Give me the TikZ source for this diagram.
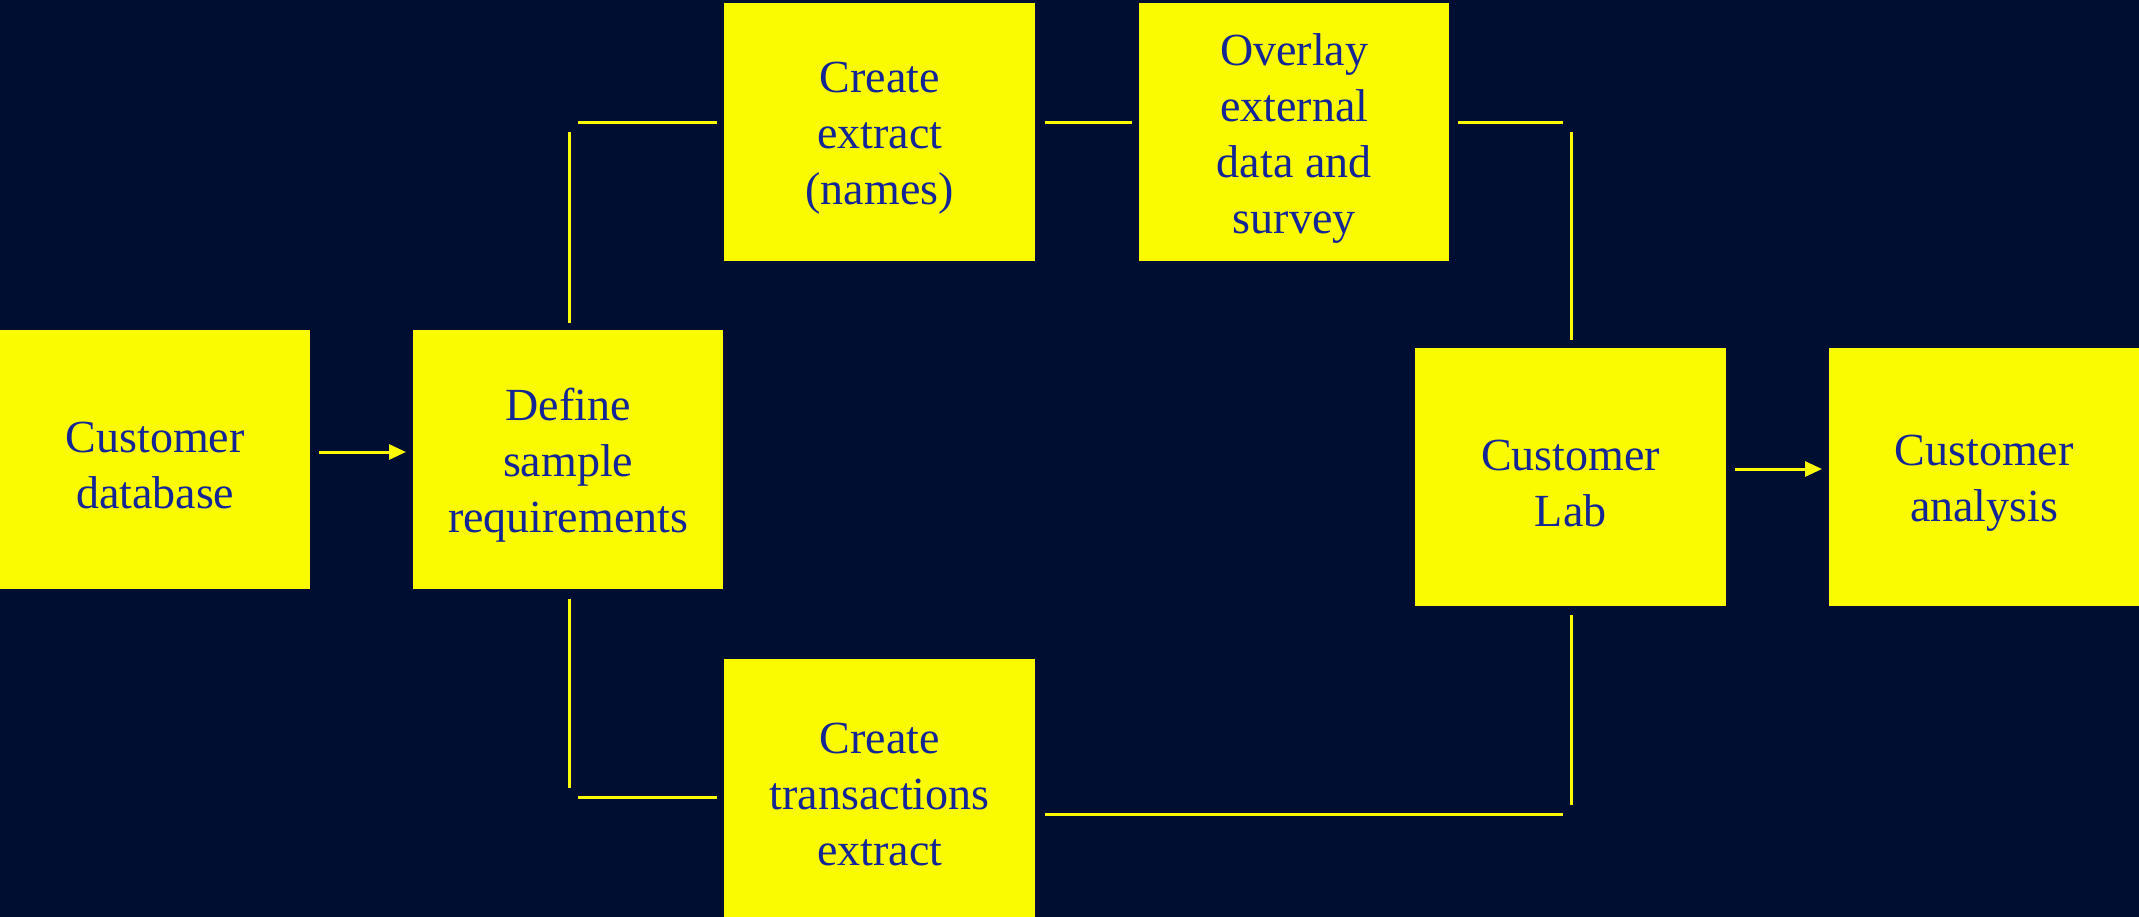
\documentclass[tikz,border=0pt]{standalone}
\usepackage{fontspec}
\setmainfont{Liberation Serif}
\usetikzlibrary{arrows.meta}
\definecolor{bgnavy}{RGB}{0,14,50}
\definecolor{boxyellow}{RGB}{250,250,0}
\definecolor{textblue}{RGB}{20,38,150}
\tikzset{
  procbox/.style={fill=boxyellow, draw=none, anchor=north west, inner sep=0pt},
  boxtext/.style={text=textblue, align=center, inner sep=0pt, font=\fontsize{46}{56}\selectfont},
  link/.style={draw=boxyellow, line width=3pt},
  arrowlink/.style={link, -{Triangle[length=17pt,width=15pt]}}
}
\begin{document}
\begin{tikzpicture}[x=1pt,y=-1pt]
\fill[bgnavy] (0,0) rectangle (2139,917);
\useasboundingbox (0,0) rectangle (2139,917);
\node[procbox, minimum width=310pt, minimum height=259pt] (db) at (0,330) {};
\node[procbox, minimum width=310pt, minimum height=259pt] (def) at (413,330) {};
\node[procbox, minimum width=311pt, minimum height=258pt] (ext) at (724,3) {};
\node[procbox, minimum width=310pt, minimum height=258pt] (ovl) at (1139,3) {};
\node[procbox, minimum width=311pt, minimum height=258pt] (lab) at (1415,348) {};
\node[procbox, minimum width=310pt, minimum height=258pt] (ana) at (1829,348) {};
\node[procbox, minimum width=311pt, minimum height=258pt] (trx) at (724,659) {};
\node[boxtext] (dbt) at ([yshift=-6pt]db.center) {Customer\\database};
\node[boxtext] (deft) at ([yshift=-6pt]def.center) {Define\\sample\\requirements};
\node[boxtext] (extt) at ([yshift=-6pt]ext.center) {Create\\extract\\(names)};
\node[boxtext] (ovlt) at ([yshift=-6pt]ovl.center) {Overlay\\external\\data and\\survey};
\node[boxtext] (labt) at ([yshift=-6pt]lab.center) {Customer\\Lab};
\node[boxtext] (anat) at ([yshift=-6pt]ana.center) {Customer\\analysis};
\node[boxtext] (trxt) at ([yshift=-6pt]trx.center) {Create\\transactions\\extract};
% corner coordinates
\coordinate (a1) at (569,323);
\coordinate (a2) at (569,132);
\coordinate (a3) at (578,123);
\coordinate (a4) at (717,123);
\coordinate (b1) at (1045,123);
\coordinate (b2) at (1132,123);
\coordinate (c1) at (1458,123);
\coordinate (c2) at (1563,123);
\coordinate (c3) at (1571,132);
\coordinate (c4) at (1571,340);
\coordinate (d1) at (569,599);
\coordinate (d2) at (569,788);
\coordinate (d3) at (578,797);
\coordinate (d4) at (717,797);
\coordinate (e1) at (1045,814);
\coordinate (e2) at (1563,814);
\coordinate (e3) at (1571,805);
\coordinate (e4) at (1571,615);
\coordinate (f1) at (319,452);
\coordinate (f2) at (406,452);
\coordinate (g1) at (1735,469);
\coordinate (g2) at (1822,469);
% connectors
\draw[arrowlink] (f1) -- (f2);
\draw[arrowlink] (g1) -- (g2);
\draw[link] (a1) -- (a2);
\draw[link] (a3) -- (a4);
\draw[link] (b1) -- (b2);
\draw[link] (c1) -- (c2);
\draw[link] (c3) -- (c4);
\draw[link] (d1) -- (d2);
\draw[link] (d3) -- (d4);
\draw[link] (e1) -- (e2);
\draw[link] (e3) -- (e4);
\end{tikzpicture}
\end{document}
